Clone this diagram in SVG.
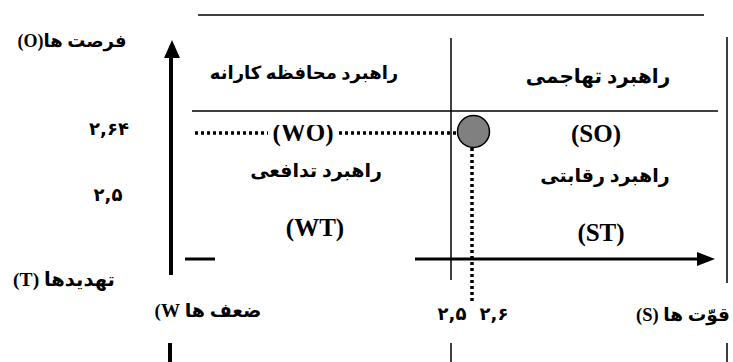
<svg xmlns="http://www.w3.org/2000/svg" width="733" height="362" viewBox="0 0 733 362">
<defs>
<style>
.thin{stroke:#000;stroke-width:1.5;fill:none}
.thick{stroke:#000;stroke-width:4;fill:none}
.dot{stroke:#000;stroke-width:3.5;stroke-dasharray:3 3;fill:none}
.fa{font-family:"Liberation Serif","DejaVu Sans",serif;font-weight:bold;font-size:19px;fill:#000}
.en{font-family:"Liberation Serif",serif;font-weight:bold;font-size:25px;fill:#000}
.num{font-family:"DejaVu Sans",sans-serif;font-weight:bold;font-size:18px;fill:#000}
</style>
<clipPath id="clipTop"><rect x="0" y="125" width="733" height="40"/></clipPath>
</defs>
<rect width="733" height="362" fill="#fff"/>
<g id="grid">
<line class="thin" x1="198" y1="15" x2="704" y2="15"/>
<line class="thin" x1="192" y1="111" x2="718" y2="111"/>
<line class="thin" x1="451" y1="38" x2="451" y2="280"/>
<line class="thin" x1="451" y1="343" x2="451" y2="362"/>
<line class="thin" x1="727" y1="37" x2="727" y2="283"/>
<line class="thin" x1="727" y1="343" x2="727" y2="362"/>
</g>
<g id="axes">
<line class="thick" x1="171" y1="55" x2="171" y2="275"/>
<polygon points="172,40 180,58 164,58" fill="#000"/>
<line class="thick" x1="170" y1="343" x2="170" y2="362"/>
<line stroke="#000" stroke-width="3" x1="185" y1="259" x2="215" y2="259"/>
<line stroke="#000" stroke-width="3" x1="415" y1="259" x2="700" y2="259"/>
<polygon points="715,259 697,252 697,266" fill="#000"/>
</g>
<g id="connectors">
<line class="dot" x1="195" y1="133" x2="268" y2="133"/>
<line class="dot" x1="339" y1="133" x2="458" y2="133"/>
<line class="dot" x1="472" y1="148" x2="472" y2="302"/>
</g>
<g id="point">
<circle cx="473.5" cy="131.5" r="16" fill="#808080" stroke="#000" stroke-width="1.5"/>
</g>
<g id="quadrant-WO">
<text class="fa" x="304" y="79" text-anchor="middle" direction="rtl" style="font-size:18px">راهبرد محافظه کارانه</text>
<text class="en" x="303" y="141" text-anchor="middle" clip-path="url(#clipTop)">(WO)</text>
</g>
<g id="quadrant-SO">
<text class="fa" x="598" y="83" text-anchor="middle" direction="rtl" style="font-size:20px">راهبرد تهاجمی</text>
<text class="en" x="596" y="142" text-anchor="middle" clip-path="url(#clipTop)">(SO)</text>
</g>
<g id="quadrant-WT">
<text class="fa" x="316" y="177" text-anchor="middle" direction="rtl">راهبرد تدافعی</text>
<text class="en" x="315" y="236" text-anchor="middle">(WT)</text>
</g>
<g id="quadrant-ST">
<text class="fa" x="605" y="182" text-anchor="middle" direction="rtl">راهبرد رقابتی</text>
<text class="en" x="601" y="241" text-anchor="middle">(ST)</text>
</g>
<g id="labels">
<text class="fa" x="72" y="47" text-anchor="middle" direction="rtl" style="font-size:18px">فرصت ها(O)</text>
<text class="num" x="109" y="135" text-anchor="middle">۲,۶۴</text>
<text class="num" x="108" y="201" text-anchor="middle">۲,۵</text>
<text class="fa" x="64" y="286" text-anchor="middle" direction="rtl" style="font-size:19.5px">تهدیدها (T)</text>
<text class="fa" x="208" y="317" text-anchor="middle" direction="rtl">ضعف ها W)</text>
<text class="num" x="452" y="320" text-anchor="middle">۲,۵</text>
<text class="num" x="494" y="320" text-anchor="middle">۲,۶</text>
<text class="fa" x="683" y="321" text-anchor="middle" direction="rtl" style="font-size:18.5px">قوّت ها (S)</text>
</g>
</svg>
